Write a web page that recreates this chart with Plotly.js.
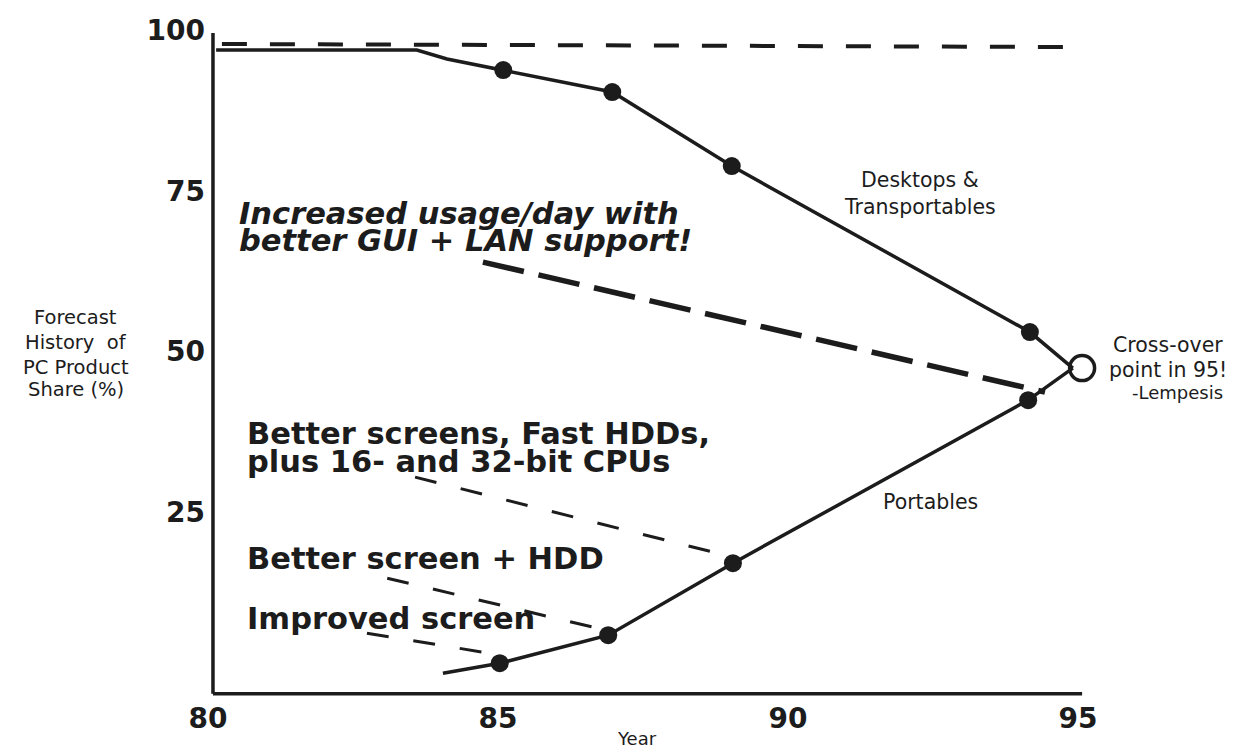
<!DOCTYPE html>
<html>
<head>
<meta charset="utf-8">
<script src="https://cdn.plot.ly/plotly-3.0.1.min.js"></script>
<style>
  html, body { margin: 0; padding: 0; background: #fff; }
  #plot { width: 1234px; height: 752px; }
</style>
</head>
<body>
<div id="plot"></div>
<script>
// values (year, share %)
const deskYears = [80.14, 83.6, 84.12, 85.09, 86.97, 89.03, 94.17, 94.91]
const deskShare = [96.87, 96.87, 95.47, 93.76, 90.34, 78.83, 53.03, 47.43]
const portYears = [84.05, 85.03, 86.9, 89.05, 94.14, 94.91]
const portShare = [0.0, 1.56, 5.92, 17.11, 42.45, 47.43]
const crossYear = [95.07]
const crossShare = [47.43]

// dashed guide lines
const totalYears = [80.24, 94.78]
const totalShare = [97.8, 97.34]
const guiYears = [84.74, 94.43]
const guiShare = [63.91, 43.7]
const cpuYears = [83.57, 88.78]
const cpuShare = [30.48, 18.67]
const hddYears = [83.09, 86.71]
const hddShare = [14.78, 7.01]
const screenYears = [82.74, 84.74]
const screenShare = [6.23, 3.28]

const yearTicks = [80, 85, 90, 95]
const shareTicks = [25, 50, 75, 100]

const ink = '#1c1c1c'
const bold = {family: 'DejaVu Sans', size: 30.5, color: ink, weight: 700}
const small = {family: 'DejaVu Sans', size: 20.5, color: ink}

const line = (x, y, width, dash) => ({
  x, y,
  type: 'scatter',
  mode: 'lines',
  line: {color: ink, width, dash},
  hoverinfo: 'none',
})

const dots = (x, y) => ({
  x, y,
  type: 'scatter',
  mode: 'markers',
  marker: {color: ink, size: 18},
  hoverinfo: 'none',
  cliponaxis: false,
})

const vizData = [
  line(totalYears, totalShare, 4, '25px,23px'),
  line(guiYears, guiShare, 5.5, '42px,15px'),
  line(cpuYears, cpuShare, 3, '22px,25px'),
  line(hddYears, hddShare, 3, '22px,25px'),
  line(screenYears, screenShare, 3, '22px,25px'),
  line(deskYears, deskShare, 3.5),
  line(portYears, portShare, 3.5),
  dots(deskYears.slice(3, 7), deskShare.slice(3, 7)),
  dots(portYears.slice(1, 5), portShare.slice(1, 5)),
  {
    x: crossYear,
    y: crossShare,
    type: 'scatter',
    mode: 'markers',
    marker: {symbol: 'circle-open', size: 25, color: ink, line: {width: 3.5, color: ink}},
    hoverinfo: 'none',
    cliponaxis: false,
  },
]

// notes inside the plot sit on data coords, the ones outside on paper coords
const note = (text, x, y, font, xanchor = 'center', ref = 'data') => ({
  text, x, y,
  xref: ref === 'data' ? 'x' : 'paper',
  yref: ref === 'data' ? 'y' : 'paper',
  xanchor, yanchor: 'middle',
  showarrow: false,
  font,
})

const italicBold = {...bold, style: 'italic'}

const annotations = [
  note('Increased usage/day with', 80.5, 71.53, italicBold, 'left'),
  note('better GUI + LAN support!', 80.5, 67.33, italicBold, 'left'),
  note('Better screens, Fast HDDs,', 80.64, 37.32, bold, 'left'),
  note('plus 16- and 32-bit CPUs', 80.64, 32.97, bold, 'left'),
  note('Better screen + HDD', 80.64, 17.89, bold, 'left'),
  note('Improved screen', 80.64, 8.56, bold, 'left'),
  note('Desktops &', 92.28, 76.66, small),
  note('Transportables', 92.28, 72.46, small),
  note('Portables', 92.45, 26.6, small),
  note('Cross-over', 1.0585, 0.519, small, 'center', 'paper'),
  note('point in 95!', 1.0585, 0.4824, small, 'center', 'paper'),
  note('-Lempesis', 1.0693, 0.4487, {...small, size: 18}, 'center', 'paper'),
  note('Forecast', -0.1246, 0.5587, {...small, size: 19.5}, 'center', 'paper'),
  note('History  of', -0.1246, 0.522, {...small, size: 19.5}, 'center', 'paper'),
  note('PC Product', -0.1246, 0.4868, {...small, size: 19.5}, 'center', 'paper'),
  note('Share (%)', -0.1246, 0.4531, {...small, size: 19.5}, 'center', 'paper'),
  note('Year', 0.4832, -0.0572, {...small, size: 18}, 'center', 'paper'),
]

// axis lines drawn as shapes so they stop where the original ones do
const axisLine = {type: 'line', xref: 'x', yref: 'y', line: {color: ink, width: 3.5}}
const shapes = [
  {...axisLine, x0: 80.086, x1: 95.07, y0: -3.2, y1: -3.2},
  {...axisLine, x0: 80.086, x1: 80.086, y0: -3.2, y1: 99.5},
]

const layout = {
  width: 1234,
  height: 752,
  margin: {l: 191, r: 120, t: 17, b: 53},
  paper_bgcolor: '#fff',
  plot_bgcolor: '#fff',
  showlegend: false,
  xaxis: {
    range: [79.707, 95.62],
    tickvals: yearTicks,
    ticktext: yearTicks.map(String),
    showgrid: false,
    zeroline: false,
    showline: false,
    ticks: '',
    tickfont: {family: 'DejaVu Sans', size: 28, color: ink, weight: 700},
  },
  yaxis: {
    range: [-4, 102],
    anchor: 'free',
    position: 0.0238,
    tickvals: shareTicks,
    ticktext: shareTicks.map(String),
    showgrid: false,
    zeroline: false,
    showline: false,
    ticks: '',
    ticklabelstandoff: 8,
    tickfont: {family: 'DejaVu Sans', size: 28, color: ink, weight: 700},
  },
  annotations,
  shapes,
}

Plotly.newPlot('plot', vizData, layout, {displayModeBar: false, staticPlot: true})
</script>
</body>
</html>
